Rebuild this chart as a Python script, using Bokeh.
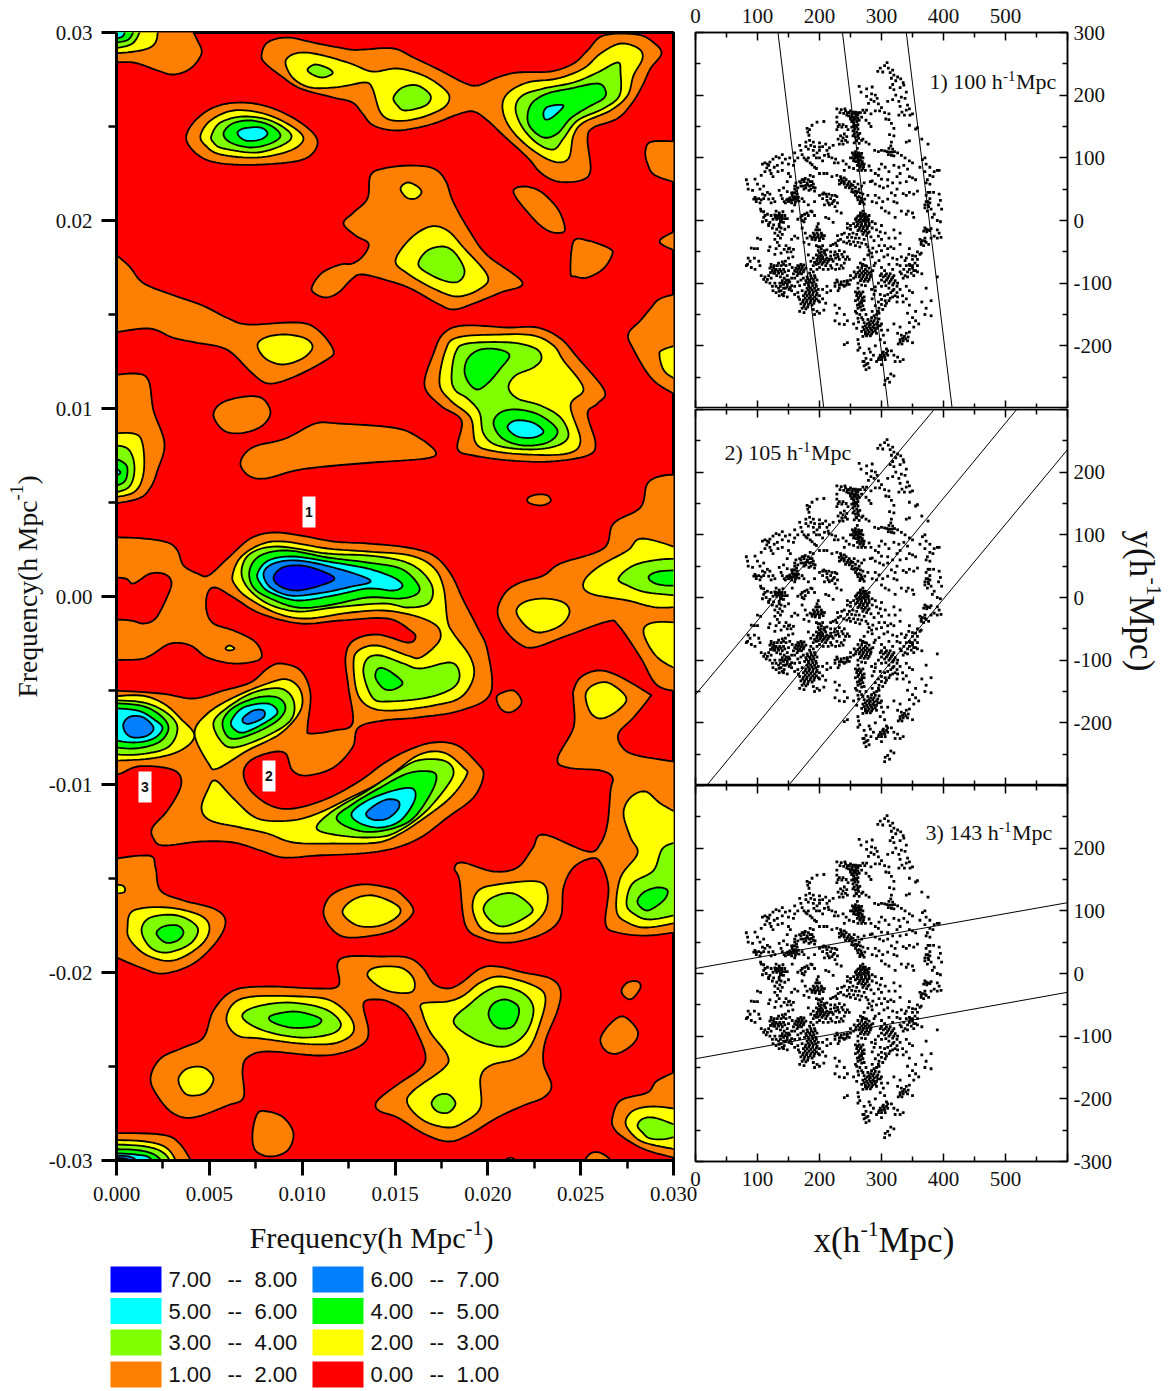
import numpy as np
from math import pi
from bokeh.plotting import figure
from bokeh.layouts import row, column
from bokeh.models import Range1d, LinearAxis, FixedTicker, Label
from bokeh.core.properties import value
from bokeh.embed import file_html
from bokeh.resources import INLINE

SERIF = "Liberation Serif"
SANS = "Liberation Sans"

# ---- tick labels ----------------------------------------------------------
FREQ_X_TICKS = [0.000, 0.005, 0.010, 0.015, 0.020, 0.025, 0.030]
FREQ_X_LABELS = ["0.000", "0.005", "0.010", "0.015", "0.020", "0.025", "0.030"]
FREQ_Y_TICKS = [-0.03, -0.02, -0.01, 0.0, 0.01, 0.02, 0.03]
FREQ_Y_LABELS = ["-0.03", "-0.02", "-0.01", "0.00", "0.01", "0.02", "0.03"]

# ---- legend ---------------------------------------------------------------
LEVEL_LOW = ["7.00", "5.00", "3.00", "1.00", "6.00", "4.00", "2.00", "0.00"]
LEVEL_HIGH = ["8.00", "6.00", "4.00", "2.00", "7.00", "5.00", "3.00", "1.00"]
LEVEL_COLOR = ["#0000FF", "#00FFFF", "#80FF00", "#FF8000", "#0080FF", "#00FF00", "#FFFF00", "#FF0000"]

# ---- contour outlines (axis-calibrated below) -
ORANGE = [
 [(116,62),(133,62),(157,70),(173,74),(190,68),(201,53),(197,40),(187,32),(116,32)],
 [(261,55),(267,42),(287,37),(317,43),(350,49),(363,49),(393,48),(413,57),(440,70),(463,82),(477,85),(497,77),(517,72),(550,71),(573,63),(587,50),(603,35),(637,34),(653,42),(661,53),(650,68),(642,85),(632,102),(617,118),(593,127),(587,138),(590,170),(580,180),(557,181),(540,172),(527,157),(503,135),(487,120),(473,111),(457,114),(430,124),(397,130),(373,125),(362,113),(352,102),(333,97),(300,88),(280,75),(265,63)],
 [(186,140),(193,122),(213,107),(240,102),(270,107),(300,122),(317,140),(307,157),(277,163),(233,164),(203,158)],
 [(370,175),(383,168),(410,165),(433,168),(445,180),(453,202),(470,232),(487,255),(522,282),(500,292),(473,303),(453,309),(437,303),(410,288),(387,280),(362,274),(352,278),(338,292),(325,297),(313,292),(312,285),(322,272),(340,264),(352,263),(363,255),(368,243),(355,235),(343,223),(353,212),(367,198)],
 [(513,192),(523,186),(540,191),(557,208),(564,225),(562,232),(547,230),(530,215)],
 [(570,272),(573,241),(587,240),(607,247),(612,253),(603,268),(587,277),(575,276)],
 [(645,150),(652,141),(673,142),(673,184),(655,175),(647,163)],
 [(661,238),(673,227),(673,253),(663,245)],
 [(628,333),(640,320),(650,308),(660,298),(673,292),(673,398),(653,380),(632,347)],
 [(116,247),(128,265),(142,282),(168,293),(202,305),(228,318),(248,324),(298,322),(318,330),(333,350),(325,360),(292,377),(268,383),(252,373),(232,353),(218,346),(195,342),(172,337),(148,328),(117,333)],
 [(117,376),(135,373),(148,380),(153,410),(164,443),(157,470),(150,487),(138,498),(117,504)],
 [(213,413),(222,402),(245,396),(262,398),(270,412),(262,425),(245,432),(228,432),(218,425)],
 [(240,462),(252,447),(285,438),(315,423),(338,423),(392,427),(415,435),(435,451),(425,458),(372,462),(325,466),(295,470),(265,478),(248,475)],
 [(424,385),(433,353),(443,333),(463,325),(507,327),(537,327),(560,338),(577,357),(604,390),(597,403),(587,413),(595,443),(587,455),(550,461),(510,460),(473,455),(457,448),(461,420),(440,405)],
 [(528,497),(537,494),(547,495),(550,501),(540,505),(528,502)],
 [(497,610),(505,592),(520,582),(543,575),(560,563),(603,548),(613,523),(640,507),(647,483),(663,475),(673,475),(673,691),(657,685),(640,657),(618,625),(607,621),(567,635),(533,647),(517,642),(503,627)],
 [(117,537),(143,538),(167,542),(177,550),(183,565),(197,573),(208,575),(227,558),(250,538),(273,532),(300,535),(333,541),(367,543),(407,547),(433,555),(450,573),(463,600),(477,627),(487,650),(490,693),(460,710),(417,717),(383,720),(358,727),(352,747),(333,767),(307,775),(292,770),(285,753),(270,752),(250,760),(243,773),(250,790),(270,805),(293,808),(327,798),(360,780),(383,763),(407,750),(433,742),(457,745),(477,763),(483,775),(473,797),(447,817),(420,837),(393,848),(360,853),(317,855),(283,857),(260,850),(233,842),(200,841),(163,845),(153,838),(152,827),(167,810),(180,787),(178,773),(163,767),(137,766),(120,773),(116,775),(116,690),(160,693),(193,698),(223,690),(250,682),(267,668),(280,663),(300,670),(310,693),(307,727),(310,733),(333,730),(352,723),(348,687),(345,657),(353,640),(377,634),(407,642),(415,637),(410,630),(387,618),(340,620),(300,623),(260,613),(233,597),(215,587),(207,593),(206,610),(213,623),(233,630),(253,640),(261,652),(257,660),(233,663),(207,657),(190,645),(170,643),(150,655),(137,659),(116,659)],
 [(496,698),(500,693),(513,690),(521,700),(517,708),(508,712),(500,708)],
 [(573,690),(580,677),(597,670),(617,675),(648,693),(649,697),(633,717),(618,733),(622,747),(637,755),(673,763),(673,930),(647,935),(617,932),(605,923),(608,887),(600,862),(590,858),(573,867),(563,887),(560,917),(543,933),(510,942),(483,938),(465,925),(459,880),(454,868),(462,862),(493,871),(517,867),(532,848),(543,834),(587,851),(600,843),(607,823),(610,790),(612,777),(600,770),(567,767),(557,758),(573,727),(573,700)],
 [(117,860),(148,855),(155,867),(160,890),(183,900),(213,908),(225,920),(217,940),(193,963),(163,973),(140,967),(117,952)],
 [(323,910),(333,893),(360,884),(387,887),(400,893),(413,910),(400,925),(383,933),(347,937),(330,927)],
 [(150,1078),(160,1058),(183,1047),(203,1037),(213,1010),(233,990),(267,986),(317,988),(338,985),(337,963),(348,956),(380,956),(407,957),(422,967),(433,983),(447,988),(460,983),(480,968),(497,966),(523,972),(550,978),(560,990),(557,1010),(545,1040),(543,1063),(551,1085),(543,1097),(523,1105),(497,1117),(467,1135),(447,1141),(423,1133),(397,1117),(380,1111),(375,1105),(380,1097),(400,1082),(420,1068),(425,1055),(417,1033),(405,1012),(390,1002),(377,999),(363,1003),(368,1030),(363,1043),(343,1052),(317,1055),(267,1051),(247,1057),(242,1070),(243,1097),(227,1105),(193,1117),(173,1113),(158,1097)],
 [(621,990),(627,982),(637,981),(640,987),(632,998),(625,997)],
 [(600,1038),(610,1023),(623,1016),(637,1030),(633,1043),(617,1053),(605,1050)],
 [(612,1117),(620,1100),(647,1092),(657,1080),(673,1068),(673,1159),(647,1150),(623,1137),(613,1127)],
 [(252,1133),(257,1113),(267,1111),(283,1117),(293,1133),(287,1150),(270,1156),(255,1150)],
 [(493,1161),(510,1157),(523,1161)],
 [(577,1161),(590,1153),(605,1155),(620,1161)],
 [(117,1133),(160,1134),(180,1144),(196,1161),(117,1161)],
]
RED_HOLES = [
 [(116,577),(125,578),(133,583),(150,573),(165,574),(171,583),(165,600),(155,618),(143,623),(130,620),(116,618)],
]
YELLOW = [
 [(116,53),(140,50),(155,42),(157,32),(116,32)],
 [(285,63),(290,55),(303,52),(323,55),(350,63),(372,71),(397,68),(423,75),(442,87),(449,97),(442,108),(417,118),(393,120),(380,112),(372,88),(365,82),(347,85),(333,87),(310,87),(293,78)],
 [(502,108),(507,93),(527,82),(557,78),(583,68),(600,53),(620,43),(638,48),(642,58),(633,75),(627,95),(610,110),(583,122),(573,135),(568,158),(553,161),(530,148),(510,128)],
 [(200,135),(210,120),(233,110),(263,113),(290,125),(303,138),(290,150),(257,157),(220,154),(205,145)],
 [(400,188),(407,182),(417,186),(421,192),(415,198),(406,197)],
 [(395,260),(410,238),(430,226),(447,230),(463,247),(487,275),(480,288),(457,296),(433,288),(407,273)],
 [(659,355),(663,349),(673,343),(673,382),(665,372)],
 [(257,345),(265,337),(285,334),(305,338),(312,347),(302,358),(282,364),(265,358)],
 [(117,434),(133,433),(142,443),(143,473),(133,492),(117,497)],
 [(439,383),(445,350),(457,337),(500,334),(533,335),(553,345),(563,360),(583,388),(570,405),(580,440),(567,453),(527,454),(490,450),(475,442),(470,417),(450,400)],
 [(583,582),(597,567),(627,550),(642,538),(673,550),(673,605),(657,607),(627,600),(590,593)],
 [(516,612),(523,602),(543,598),(563,602),(569,612),(560,625),(540,632),(527,627)],
 [(643,632),(653,622),(673,623),(673,672),(657,657)],
 [(232,575),(240,557),(260,544),(283,541),(327,548),(367,551),(410,555),(433,567),(443,587),(447,620),(453,633),(470,657),(473,677),(460,697),(433,705),(393,710),(370,707),(357,693),(353,663),(358,650),(377,645),(407,655),(420,657),(437,643),(440,632),(433,623),(413,615),(383,610),(350,612),(307,618),(277,613),(247,597),(235,585)],
 [(225,648),(229,645),(234,648),(229,650)],
 [(117,697),(140,695),(163,703),(180,718),(194,735),(180,750),(150,758),(117,760)],
 [(194,733),(207,713),(233,697),(267,683),(287,679),(300,690),(300,710),(280,733),(247,750),(217,768),(208,763)],
 [(201,808),(207,790),(215,780),(233,798),(257,818),(290,820),(317,813),(350,797),(383,780),(417,755),(443,752),(463,767),(466,775),(450,797),(423,818),(400,833),(377,842),(333,843),(293,842),(267,833),(240,827),(210,820)],
 [(585,695),(592,685),(607,682),(623,693),(625,702),(613,713),(600,718),(590,712)],
 [(623,813),(630,797),(645,791),(660,803),(673,817),(673,920),(647,927),(627,922),(616,910),(620,877),(637,853),(630,837)],
 [(472,907),(478,890),(497,884),(537,881),(547,893),(543,913),(523,930),(497,933),(480,927)],
 [(127,927),(133,910),(167,907),(200,915),(209,928),(200,945),(173,960),(147,955),(130,940)],
 [(117,885),(122,885),(123,892),(117,892)],
 [(342,912),(353,899),(373,895),(397,905),(398,915),(380,925),(357,925)],
 [(226,1020),(233,1003),(253,996),(300,996),(330,1000),(350,1017),(352,1033),(333,1043),(300,1043),(260,1038),(237,1035)],
 [(178,1078),(187,1068),(203,1067),(213,1078),(205,1092),(190,1095),(182,1090)],
 [(367,975),(375,967),(400,967),(413,978),(412,991),(395,992),(380,987)],
 [(422,1003),(447,1001),(463,995),(480,982),(500,976),(533,985),(545,998),(537,1030),(527,1050),(513,1059),(490,1065),(480,1077),(480,1107),(463,1122),(447,1127),(423,1120),(407,1103),(413,1090),(443,1068),(447,1055),(430,1032),(422,1013)],
 [(625,1122),(633,1110),(653,1106),(673,1110),(673,1150),(647,1143),(633,1135)],
 [(117,1140),(145,1141),(168,1149),(180,1161),(117,1161)],
]
CHARTREUSE = [
 [(116,48),(132,43),(142,32),(116,32)],
 [(307,69),(315,64),(328,68),(332,73),(322,77),(312,74)],
 [(393,97),(402,87),(417,85),(430,95),(425,105),(405,110),(397,105)],
 [(515,108),(522,95),(543,88),(573,82),(597,72),(617,62),(620,72),(619,95),(603,108),(577,120),(563,138),(553,149),(537,143),(522,127)],
 [(211,135),(220,122),(243,116),(270,120),(290,133),(285,143),(257,152),(223,148),(213,142)],
 [(418,262),(427,250),(443,246),(455,253),(464,270),(458,281),(443,280),(423,270)],
 [(117,445),(127,448),(134,467),(128,487),(117,493)],
 [(451,377),(455,352),(467,343),(510,342),(535,348),(541,358),(533,367),(515,375),(508,387),(517,398),(540,405),(560,417),(568,435),(557,445),(530,449),(497,445),(483,433),(479,412),(467,398),(455,390)],
 [(618,578),(633,565),(660,559),(673,559),(673,595),(647,592),(627,585)],
 [(241,570),(250,553),(277,546),(327,553),(367,555),(400,560),(420,570),(432,587),(428,603),(407,607),(383,603),(333,607),(297,611),(267,603),(247,587)],
 [(363,673),(367,658),(380,655),(403,663),(420,668),(450,662),(459,673),(453,687),(427,697),(387,701),(372,697)],
 [(117,700),(143,702),(167,713),(177,728),(167,747),(137,754),(117,753)],
 [(213,722),(227,707),(253,692),(280,688),(293,700),(290,720),(263,737),(233,747),(220,740)],
 [(316,827),(333,810),(367,790),(393,773),(417,760),(443,760),(453,770),(447,785),(423,813),(393,833),(367,837),(333,834)],
 [(626,903),(632,883),(653,870),(663,847),(673,841),(673,912),(650,919),(633,913)],
 [(483,908),(492,897),(513,893),(532,908),(523,918),(503,926),(490,920)],
 [(141,930),(150,917),(177,915),(197,927),(190,943),(167,952),(150,947)],
 [(242,1017),(253,1007),(287,1002),(323,1008),(340,1022),(332,1033),(300,1037),(263,1030)],
 [(453,1021),(470,1003),(487,990),(502,986),(523,993),(533,1008),(527,1030),(513,1043),(497,1046),(473,1038)],
 [(431,1103),(437,1095),(448,1094),(455,1103),(448,1112),(437,1111)],
 [(637,1125),(643,1118),(657,1118),(673,1130),(668,1138),(650,1138),(642,1132)],
 [(117,1144),(145,1146),(165,1154),(174,1161),(117,1161)],
]
GREEN = [
 [(116,42),(128,39),(135,32),(116,32)],
 [(527,115),(532,102),(547,93),(570,88),(597,83),(605,90),(603,98),(587,107),(570,118),(557,133),(543,137),(530,127)],
 [(223,133),(232,123),(250,120),(270,125),(280,135),(270,143),(250,147),(230,142)],
 [(117,455),(123,462),(127,470),(123,482),(117,487)],
 [(464,370),(468,357),(480,349),(498,349),(509,355),(500,368),(488,382),(477,389),(468,382)],
 [(493,423),(500,412),(517,409),(540,415),(557,430),(547,442),(523,445),(502,438)],
 [(648,577),(658,571),(673,570),(673,585),(658,584)],
 [(249,570),(260,555),(287,550),(327,557),(367,562),(400,568),(417,583),(417,593),(400,598),(367,597),(327,605),(297,607),(270,598),(253,587)],
 [(375,677),(378,668),(388,670),(402,682),(393,689),(383,688)],
 [(117,703),(140,705),(160,715),(168,728),(158,742),(133,748),(117,745)],
 [(222,722),(233,707),(257,697),(277,697),(285,707),(277,720),(253,733),(230,738)],
 [(336,818),(353,803),(380,787),(407,773),(430,771),(436,778),(428,797),(410,820),(383,830),(357,830)],
 [(637,902),(643,892),(657,887),(667,890),(663,900),(647,910)],
 [(156,933),(163,926),(177,925),(183,932),(177,940),(165,942)],
 [(271,1015),(293,1011),(313,1015),(321,1020),(313,1026),(290,1027),(271,1021)],
 [(488,1013),(493,1003),(505,999),(517,1005),(518,1015),(512,1026),(500,1028),(492,1023)],
 [(117,1149),(140,1150),(158,1157),(165,1161),(117,1161)],
]
CYAN = [
 [(116,37),(122,36),(125,32),(116,32)],
 [(543,112),(548,106),(563,105),(553,116),(545,119)],
 [(237,133),(243,128),(260,127),(267,133),(260,139),(245,140)],
 [(117,463),(120,472),(117,478)],
 [(507,427),(515,420),(532,422),(543,431),(533,437),(517,436)],
 [(257,573),(268,560),(293,556),(333,562),(367,568),(393,577),(402,585),(393,590),(367,588),(333,595),(297,600),(270,592),(260,583)],
 [(117,708),(137,710),(155,720),(162,728),(153,738),(133,742),(117,738)],
 [(231,720),(243,707),(267,703),(277,712),(263,723),(243,732),(233,728)],
 [(351,813),(367,800),(393,790),(412,788),(414,800),(400,820),(380,827),(360,823)],
 [(117,1153),(135,1154),(150,1158),(155,1161),(117,1161)],
]
AZURE = [
 [(263,573),(273,563),(297,560),(333,567),(370,580),(347,587),(317,593),(290,595),(270,587)],
 [(123,723),(130,716),(143,717),(153,727),(147,735),(133,737),(125,732)],
 [(243,717),(253,710),(263,710),(263,717),(250,723),(243,722)],
 [(366,812),(383,800),(397,800),(398,808),(387,818),(372,819)],
 [(117,1156),(132,1157),(143,1160),(147,1161),(117,1161)],
]
BLUE = [
 [(273,577),(282,567),(300,565),(320,570),(334,578),(320,585),(297,590),(280,586)],
 [(117,1158),(128,1159),(138,1161),(117,1161)],
]

# ---- galaxies (x, y in h^-1 Mpc) -------------------------------------------
GAL_NORTH = [(309,252),(305,247),(298,243),(311,243),(318,240),(294,238),(302,237),(314,236),(320,232),(326,229),(316,227),(331,226),(323,223),(335,220),(336,216),(318,217),(314,212),(320,209),(330,212),(340,205),(276,210),(264,214),(267,205),(285,213),(276,198),(284,202),(290,200),(283,193),(288,190),(279,187),(295,186),(293,195),(300,180),(297,175),(305,172),(312,170),(323,200),(332,197),(318,193),(328,190),(338,195),(310,190),(342,184),(330,182),(340,176),(345,178),(333,173),(337,168),(328,168),(346,168),(350,170),(307,162),(312,161),(316,155),(320,147),(345,152),(355,146),(358,148),(313,137),(320,135),(340,125),(345,127),(365,130),(375,122),(283,170),(290,175),(275,160),(280,155),(283,150),
 (228,178),(235,177),(241,178),(233,172),(239,171),(245,172),(250,175),(254,173),(247,167),(252,168),(258,170),(262,168),(256,164),(250,162),(262,163),(266,172),(270,176),(273,172),(255,160),(260,158),(268,165),(276,176),
 (255,155),(258,152),(260,150),(252,149),(257,146),(262,146),(254,143),(260,141),(265,139),(254,135),(258,133),(263,131),(260,127),(268,128),(256,124),(264,123),(270,130),(275,125),(280,122),
 (228,157),(232,153),(238,153),(230,150),(236,149),(243,150),(228,145),(240,138),(234,135),(238,132),(244,134),(242,128),(236,127),(232,122),(238,122),(245,125),(230,130),
 (180,147),(188,152),(184,145),(196,157),(207,158),(181,141),(183,136),(228,165),(246,145),(186,120),(190,125),(182,114),(200,124),(200,117),(200,112),(222,120),(212,112),(214,106)]
GAL_UPPER = [(261,115),(258,110),(263,108),(255,104),(259,103),(264,102),(268,107),(250,100),(256,98),(262,96),(266,97),(270,100),(263,91),(268,90),(272,90),(265,85),(270,83),(274,80),(262,80),(280,87),(283,80),(290,75),(300,66),(295,72),(285,63),
 (316,125),(315,119),(312,115),(318,114),(305,111),(309,110),(313,109),(317,109),(321,110),(326,108),(311,105),(316,104),(320,103),(300,112),(295,110),(289,112),(332,104),(338,100),
 (345,95),(350,92),(366,97),(370,100),(372,90),(362,85),(378,85),(370,78),(385,78),(390,80),(393,80),(378,72),(374,65),(372,60),(378,58),(383,70),(345,70),(350,68),(355,65),(340,62),(330,75),(325,70),(330,60),(345,45),(352,42),(358,47),(340,40),(335,43),(325,50),(303,52),(310,55),(320,30),(332,15),(343,15),(350,12),(325,28),
 (170,112),(172,105),(160,108),(165,100),(175,100),(182,100),(180,95),(185,92),(188,89),(192,85),(178,97),(195,83),(195,100),(191,104),(200,100),(205,95),(215,102),(208,104),(220,100),(226,98),(230,92),(224,92),(238,95),(243,90),(248,85),(240,80),(200,75),(207,75),(212,75),(220,70),(190,70),(185,72),(175,65),(255,83),
 (116,90),(120,93),(112,92),(108,90),(125,98),(118,88),(130,102),(135,100),(140,105),(120,80),(122,75),(125,70),(133,78),(140,80),(150,90),(158,88),(150,75),(153,70),(148,62),(82,65),(84,58),(85,50),(92,48),(96,66),(100,58),(116,45),(112,40),(120,42),(125,35),(96,37)]
GAL_MIDDLE = [(162,60),(168,62),(172,65),(177,67),(180,60),(185,62),(178,56),(184,55),(190,58),(193,52),(186,50),(175,50),(192,47),(165,52),(160,55),
 (160,50),(163,47),(158,44),(164,42),(156,40),(161,38),(166,37),(152,36),(158,33),(163,32),(147,33),(150,30),(155,28),(167,31),(143,30),(172,35),(140,35),(175,30),(182,25),(192,30),(200,40),(205,42),(210,42),(215,42),(220,40),(225,40),(205,35),(212,32),(222,30),(216,25),(225,22),(228,15),(235,12),(186,15),(180,12),(176,10),(172,8),
 (94,34),(98,34),(102,35),(106,33),(110,35),(98,30),(104,28),
 (228,72),(234,70),(240,68),(232,64),(237,63),(243,65),(248,62),(232,58),(240,58),(245,56),(251,58),(256,62),(248,52),(253,50),(258,53),(262,58),(255,45),(260,44),(264,50),(268,55),(272,60),(258,40),(264,38),(270,42),(262,33),(268,32),(273,34),(265,27),(272,26),(278,40),(282,62),(290,58),(297,55),(285,30),(292,28),(300,20),(306,15),(312,12),(322,5),
 (106,15),(110,5),(114,0),(120,-3),(126,-7),(130,15),(135,12),(141,14),(128,9),(133,7),(138,5),(144,8),(148,3),(131,2),(137,0),(142,-3),(135,-6),(160,25),(156,15),(150,-10),(170,5),(165,2),(172,0),(177,3),(182,8),(175,-2),(192,8),(188,14),(210,5),(215,3),(222,-3),(245,-5),(250,-8),(255,-5),
 (270,15),(266,12),(274,10),(262,7),(268,6),(274,5),(280,8),(258,2),(264,0),(270,0),(276,1),(262,-5),(268,-5),(274,-4),(280,-4),(258,-10),(265,-11),(271,-10),(277,-10),(285,-12),(262,-16),(268,-17),(274,-16),(280,-18),(270,-22),(276,-24),(283,-26),(245,-12),(250,-14),(285,-2),(290,-5),(300,-8),(320,-15),(330,-20),(340,10),(352,5),
 (240,-20),(248,-22),(254,-20),(260,-22),(245,-27),(252,-27),(258,-28),(264,-28),(248,-33),(255,-34),(262,-35),(268,-36),(272,-30),(258,-40),(265,-42),(275,-38),(278,-42),(280,-48),(284,-52),(278,-55),(285,-58),
 (378,45),(372,40),(378,35),(372,30),(378,28),(370,25),(376,22),(380,18),(374,15),(384,45),(393,42),(395,32),(392,25),(397,18),(385,10),(382,5),(390,0),(395,-2),(370,-12),(375,-15),(380,-13),(368,-17),(373,-18),(390,-15),(393,-20),(385,-25),(380,-28),(390,-28),(396,-27),(370,-28),(366,-32),(372,-35),(362,-30),(368,-40),(376,-38),(364,-38),(358,-50),(362,-54),(355,-57),(350,-62),(358,-62),(364,-52),(345,-70),(350,-72),(345,-78),(352,-80),(358,-82),(342,-82),(338,-88),(335,-92),(332,-85),(342,-90),(365,-85),(390,-90),
 (305,-40),(310,-45),(315,-42),(320,-45),(300,-48),(310,-55),(318,-60),(325,-70),(330,-72),(325,-62),(340,-60),(345,-45),(295,-25),(300,-30),(322,-28),(330,-38)]
GAL_LOWER = [(198,-5),(196,-10),(194,-15),(200,-15),(190,-20),(196,-20),(203,-20),(185,-25),(191,-26),(197,-26),(203,-26),(208,-24),(180,-28),(177,-20),(188,-30),(172,-12),(175,-35),(183,-38),(160,-25),(165,-28),(155,-30),(150,-45),(154,-50),(157,-58),(135,-10),(136,-18),(133,-24),(140,-22),(128,-30),(132,-35),(135,-40),(130,-45),(100,-28),(105,-30),(118,-48),(90,-44),(95,-45),(100,-45),(120,-42),
 (195,-40),(200,-42),(205,-40),(198,-48),(203,-50),(208,-48),(210,-55),(195,-55),(200,-57),(205,-58),(212,-60),(218,-57),(225,-50),(232,-48),(240,-50),(228,-40),(222,-38),(218,-40),(190,-60),(196,-62),(202,-63),(208,-65),(214,-65),(220,-62),(226,-60),(232,-62),(238,-58),(245,-58),(186,-65),(192,-67),(198,-69),(204,-70),(210,-72),(200,-75),(190,-72),(228,-70),(235,-72),(240,-68),(248,-62),(218,-72),(182,-55),
 (165,-72),(170,-70),(175,-71),(162,-76),(167,-76),(172,-76),(178,-76),(163,-82),(168,-82),(174,-82),(158,-85),(164,-88),(155,-92),(160,-92),(150,-80),
 (150,-60),(145,-65),(142,-70),(138,-72),(132,-72),(126,-76),(120,-76),(124,-80),(130,-78),(136,-78),(142,-78),(128,-84),(134,-84),(140,-85),(148,-88),(122,-70),
 (85,-60),(88,-65),(84,-70),(95,-60),(102,-65),(104,-72),(82,-72),(90,-75),(96,-78),(106,-88),(112,-90),(118,-88),(110,-94),(116,-94),(122,-92),(114,-98),(120,-100),
 (128,-100),(124,-105),(130,-105),(136,-100),(134,-108),(140,-96),(146,-95),(152,-98),(142,-102),(148,-102),(155,-104),(145,-108),(151,-110),(138,-112),(143,-115),(130,-115),(135,-120),(142,-120),(148,-122),(125,-112),(160,-105),(165,-115),
 (180,-90),(186,-88),(192,-88),(178,-96),(184,-95),(190,-94),(196,-95),(176,-102),(182,-102),(188,-100),(194,-102),(186,-108),(192,-108),(180,-108),(198,-110),(178,-114),(184,-114),(190,-114),(196,-116),(174,-120),(180,-120),(186,-121),(192,-122),(200,-120),(168,-126),(174,-127),(180,-127),(186,-128),(192,-128),(198,-128),(170,-133),(176,-133),(182,-134),(188,-135),(172,-140),(178,-141),(175,-147),(168,-145),(205,-110),(212,-105),(218,-112),(225,-105),(232,-103),(212,-115),(230,-112),(205,-125),(200,-130),(210,-132),(200,-148),(196,-145),(192,-150),(207,-143),(190,-142),
 (228,-95),(235,-98),(240,-97),(245,-96),(250,-95),(238,-103),(243,-103),(248,-102),(255,-92)]
GAL_SOUTH = [(272,-62),(270,-70),(266,-68),(274,-72),(262,-75),(268,-76),(274,-78),(280,-76),(256,-82),(262,-83),(268,-84),(274,-84),(280,-84),(286,-80),(258,-90),(264,-90),(270,-90),(276,-91),(282,-90),(266,-96),(272,-97),(278,-97),(262,-100),(268,-103),(274,-104),(288,-72),(250,-88),
 (262,-108),(258,-114),(264,-114),(270,-114),(260,-120),(266,-120),(272,-122),(262,-126),(268,-128),(258,-128),(264,-134),(270,-136),(262,-140),(268,-143),(258,-145),(265,-150),(262,-156),(275,-150),(285,-145),(225,-135),(232,-140),(228,-148),(240,-150),(225,-160),(232,-165),(240,-166),(245,-160),(255,-165),(260,-172),
 (300,-75),(305,-80),(298,-88),(303,-90),(308,-85),(314,-85),(320,-88),(310,-92),(316,-94),(322,-96),(305,-98),(312,-100),(318,-103),(325,-105),(295,-100),(290,-106),(284,-110),(300,-105),(340,-105),(345,-112),(350,-115),(372,-108),
 (320,-110),(325,-115),(315,-115),(310,-118),(318,-122),(305,-120),(298,-118),(300,-126),(306,-128),(312,-128),(295,-130),(300,-134),(306,-136),(290,-136),(296,-140),(285,-125),(290,-112),(288,-118),(325,-130),(335,-130),(345,-135),(340,-125),(355,-145),(365,-130),(372,-140),(380,-128),(370,-150),(380,-152),(342,-148),(350,-155),(360,-165),
 (295,-145),(292,-150),(288,-152),(284,-155),(290,-156),(296,-157),(278,-158),(283,-160),(288,-160),(294,-162),(300,-165),(272,-163),(277,-165),(282,-166),(288,-167),(294,-168),(270,-170),(276,-172),(282,-172),(288,-172),(268,-177),(274,-178),(280,-178),(286,-178),(276,-184),(282,-184),(270,-185),(292,-180),(300,-175),(303,-183),(310,-175),(305,-195),(298,-190),
 (355,-160),(352,-170),(345,-178),(340,-180),(332,-183),(337,-185),(343,-186),(330,-190),(335,-192),(342,-192),(327,-197),(333,-197),(350,-195),(330,-170),(326,-180),(320,-165),(345,-163),
 (262,-190),(263,-197),(265,-203),(262,-207),(245,-195),(240,-198),(280,-205),(290,-200),(308,-205),(303,-210),(310,-208),(316,-208),(298,-215),(304,-215),(310,-215),(295,-222),(300,-222),(306,-222),(292,-225),(320,-215),(326,-218),(330,-225),(322,-225),(335,-222),(272,-212),(275,-220),(270,-225),(278,-228),(272,-232),(280,-235),(275,-238),(283,-222),(287,-215),(282,-210),(315,-245),(320,-248),(310,-252),(305,-262),(313,-258),(306,-255),(300,-230)]
GAL_KNOTS = [(242,175),(248,172),(253,170),(258,173),(262,172),(244,168),(250,165),(254,165),(259,166),(264,160),(258,162),(252,158),(262,153),(255,150),(262,135),(256,138),(259,128),(262,137),
 (253,108),(257,106),(261,105),(265,105),(253,100),(258,100),(262,100),(267,102),(255,95),(259,94),(264,94),(269,94),(261,88),(266,87),(271,86),(268,80),
 (170,60),(175,62),(182,65),(188,62),(174,55),(181,57),(187,56),(170,55),(178,52),(183,48),(190,53),
 (155,44),(160,44),(157,37),(163,36),(154,32),(160,35),(149,34),(153,33),(161,29),(145,28),
 (235,67),(240,62),(246,59),(235,60),(242,53),(250,55),(254,56),(252,46),(258,47),(262,46),(266,44),(261,37),(267,36),(266,30),(270,29),
 (130,8),(135,9),(139,8),(134,4),(140,3),(129,5),(144,3),(139,-2),
 (270,10),(265,8),(271,7),(277,6),(260,4),(266,3),(272,2),(279,2),(260,-2),(266,-2),(272,-1),(278,-1),(261,-8),(267,-8),(274,-7),(280,-8),(264,-14),(270,-13),(277,-13),(272,-19),(278,-20),
 (192,-23),(198,-23),(204,-23),(188,-27),(194,-28),(200,-28),(206,-29),(197,-15),(193,-31),(200,-32),
 (200,-60),(205,-61),(210,-62),(196,-65),(201,-66),(206,-67),(212,-68),(198,-58),(203,-55),(208,-52),(200,-52),(216,-62),(222,-65),(230,-58),(195,-70),
 (165,-78),(170,-79),(175,-79),(167,-73),(172,-73),(160,-80),(166,-85),(171,-85),(128,-80),(133,-81),(138,-81),(144,-82),(126,-84),
 (140,-100),(145,-99),(150,-95),(137,-105),(142,-108),(148,-106),(153,-107),(140,-118),(135,-113),
 (181,-93),(187,-92),(193,-91),(179,-99),(185,-98),(191,-98),(183,-105),(189,-104),(195,-105),(182,-111),(188,-111),(194,-112),(177,-117),(183,-117),(189,-118),(195,-119),(177,-124),(183,-124),(189,-125),(195,-125),(173,-130),(179,-130),(185,-131),(191,-132),(175,-137),(181,-138),
 (265,-80),(271,-81),(277,-81),(283,-82),(259,-86),(265,-87),(271,-87),(277,-87),(283,-87),(268,-93),(274,-94),(280,-94),(269,-72),(276,-73),
 (261,-117),(267,-117),(263,-123),(269,-124),(265,-131),(261,-135),
 (300,-85),(306,-88),(312,-89),(318,-91),(308,-95),(314,-97),(320,-100),
 (280,-163),(286,-163),(292,-165),(298,-168),(274,-168),(280,-169),(286,-170),(292,-172),(272,-174),(278,-175),(284,-175),(290,-176),(278,-181),(284,-181),(274,-181),
 (375,30),(375,25),(370,20),(372,-14),(378,-16),(375,45),(364,-35),(370,-33),(346,-72),(350,-76),(355,-80),
 (305,-218),(300,-218),(296,-219),(308,-212),(302,-212),(272,-225),(275,-230),(334,-188),(339,-189),(330,-194)]
GAL_FILAMENTS = [(122,-74),(127,-72),(134,-68),(140,-66),(146,-72),(152,-70),(156,-75),(121,-83),(131,-88),(137,-90),(143,-92),(150,-98),(155,-112),(160,-118),(166,-122),(172,-112),(168,-104),(174,-92),(170,-95),(165,-98),
 (198,-42),(203,-45),(212,-47),(218,-50),(224,-55),(229,-54),(236,-54),(242,-62),(238,-76),(232,-77),(226,-78),(220,-76),(214,-78),(206,-78),(196,-78),(186,-78),(184,-84),(190,-82),
 (143,-46),(148,-50),(152,-44),(146,-40),(138,-52),(128,-54),(158,-46),
 (229,-98),(234,-102),(240,-105),(245,-100),(232,-108),(225,-100),
 (262,-116),(268,-132),(272,-128),(266,-138),(272,-142),(260,-148),(268,-155),(263,-162),(270,-158),
 (300,-95),(307,-104),(312,-108),(318,-112),(322,-120),(314,-124),(308,-132),(302,-142),(296,-148),(326,-100),(330,-110),(334,-120),(326,-122),
 (332,-58),(338,-64),(344,-54),(350,-56),(354,-68),(348,-84),(340,-72),(336,-78),(330,-82),(358,-72),(352,-88),
 (229,-24),(234,-30),(239,-34),(244,-36),(250,-38),(236,-22),(230,-32),(226,-36),
 (137,-2),(138,-12),(137,-28),(131,-14),(144,-14),(128,-20),(124,-12),(118,-8),
 (105,18),(110,14),(116,10),(122,8),(125,2),(118,-6),(112,8),(108,-2),
 (207,44),(212,38),(218,35),(224,32),(229,28),(220,27),(214,28),(208,25),(228,38),
 (178,125),(184,128),(192,118),(205,118),(210,122),(216,116),(190,112),(196,108),(178,118),(168,120),(160,95),(152,100),(145,98),(140,92),(132,88),(127,85),(115,84),(112,78),(106,72),
 (135,48),(142,52),(148,46),(138,40),(128,30),(122,28),(118,34),(108,42),(104,50),(110,55),
 (290,40),(296,36),(302,30),(310,34),(316,44),(322,40),(300,90),(306,85),(312,78),(320,88),(328,85),(336,88),(342,82),(310,65),(318,60),(296,82),
 (292,-15),(298,-18),(306,-20),(312,-28),(288,-32),(296,-40),(286,-44),(292,-50),(304,-58),(296,-64),(290,-68),(312,-70),(318,-78)]
GALAXIES = GAL_NORTH + GAL_UPPER + GAL_MIDDLE + GAL_LOWER + GAL_SOUTH + GAL_KNOTS + GAL_FILAMENTS
GAL_X = [g[0] for g in GALAXIES]
GAL_Y = [g[1] for g in GALAXIES]

# survey strips drawn over the galaxies (x0, y0, x1, y1 in h^-1 Mpc)
STRIPS_1 = [(133,300,207,-300),(237,300,311,-300),(340,300,414,-300)]
STRIPS_2 = [(0,-155,385,300),(18,-300,518,300),(150,-300,600,236)]
STRIPS_3 = [(0,8,600,113),(0,-136,600,-30)]

# ---- axis calibration of the digitised outlines ---------------------------
def fx(a):
    return 0.03 * (a - 116.0) / (673.0 - 116.0)

def fy(b):
    return 0.03 - 0.06 * (b - 32.0) / (1160.0 - 32.0)

def snap(pt):
    a, b = pt
    if a <= 118: a = 106
    if a >= 672: a = 684
    if b <= 33: b = 22
    if b >= 1160: b = 1172
    return a, b

def outside(p):
    return p[0] < 110 or p[0] > 680 or p[1] < 26 or p[1] > 1168

def tame(points):
    # outlines that leave the frame run along its edge: keep the curve from bulging back in
    pts = [np.array(snap(p), dtype=float) for p in points]
    out = []
    for i, p in enumerate(pts):
        q = pts[(i + 1) % len(pts)]
        out.append(p)
        if outside(p) and outside(q):
            d = np.linalg.norm(q - p)
            if d > 12:
                out.append(p + (q - p) * 4 / d)
                out.append(q - (q - p) * 4 / d)
    return np.array(out)

def smooth(points, n=8):
    pts = tame(points)
    m = len(pts)
    out = []
    for i in range(m):
        p0, p1, p2, p3 = pts[(i - 1) % m], pts[i], pts[(i + 1) % m], pts[(i + 2) % m]
        for t in np.linspace(0, 1, n, endpoint=False):
            out.append(0.5 * ((2 * p1) + (p2 - p0) * t + (2 * p0 - 5 * p1 + 4 * p2 - p3) * t ** 2 + (3 * p1 - p0 - 3 * p2 + p3) * t ** 3))
    out = np.array(out)
    return fx(out[:, 0]).tolist(), fy(out[:, 1]).tolist()

def text_sheet(width, height, x0, x1, y0, y1, margin=None):
    f = figure(width=width, height=height, x_range=Range1d(x0, x1), y_range=Range1d(y1, y0),
               x_axis_type=None, y_axis_type=None, toolbar_location=None, output_backend="svg",
               min_border=0, outline_line_color=None, border_fill_color=None,
               background_fill_color=None, frame_align=False)
    f.grid.visible = False
    if margin is not None:
        f.margin = margin
    return f

def write(f, x, y, text, size, angle=0.0):
    f.text(x=[x], y=[y], text=[text], text_font=value(SERIF), text_font_size=f"{size}px",
           text_color="#111111", angle=angle, text_align="left", text_baseline="middle")

# ---- contour map ----------------------------------------------------------
main = figure(width=661, height=1212, x_range=Range1d(0, 0.03), y_range=Range1d(-0.03, 0.03),
              x_axis_type=None, y_axis_type=None, toolbar_location=None, output_backend="svg",
              min_border_left=72, min_border_right=32, min_border_top=32, min_border_bottom=52,
              background_fill_color="#FF0000", border_fill_color=None,
              outline_line_color="black", outline_line_width=3, frame_align=False)
main.grid.visible = False

def main_axis(ticks, labels, minor, where, standoff):
    ax = LinearAxis(ticker=FixedTicker(ticks=ticks, minor_ticks=minor),
                    major_label_overrides=dict(zip(ticks, labels)))
    ax.major_label_text_font = SERIF
    ax.major_label_text_font_size = "21px"
    ax.major_label_text_color = "#111111"
    ax.major_label_standoff = standoff
    ax.major_tick_out = 15
    ax.major_tick_in = 0
    ax.minor_tick_out = 8
    ax.minor_tick_in = 0
    ax.major_tick_line_width = 3
    ax.minor_tick_line_width = 2.5
    ax.axis_line_width = 3
    main.add_layout(ax, where)

main_axis(FREQ_X_TICKS, FREQ_X_LABELS, [0.0025, 0.0075, 0.0125, 0.0175, 0.0225, 0.0275], "below", 11)
main_axis(FREQ_Y_TICKS, FREQ_Y_LABELS, [-0.025, -0.015, -0.005, 0.005, 0.015, 0.025], "left", 9)

for outlines, colour in [(ORANGE, "#FF8000"), (RED_HOLES, "#FF0000"), (YELLOW, "#FFFF00"),
                         (CHARTREUSE, "#80FF00"), (GREEN, "#00FF00"), (CYAN, "#00FFFF"),
                         (AZURE, "#0080FF"), (BLUE, "#0000FF")]:
    curves = [smooth(o) for o in outlines]
    main.patches([c[0] for c in curves], [c[1] for c in curves], fill_color=colour,
                 line_color="black", line_width=1.8)

# numbered markers
TAG_TEXT = ["1", "2", "3"]
TAG_LEFT = [302, 262, 138]
TAG_RIGHT = [315, 275, 151]
TAG_TOP = [496, 760, 771]
TAG_BOTTOM = [527, 791, 802]
main.quad(left=fx(np.array(TAG_LEFT, float)).tolist(), right=fx(np.array(TAG_RIGHT, float)).tolist(),
          top=fy(np.array(TAG_TOP, float)).tolist(), bottom=fy(np.array(TAG_BOTTOM, float)).tolist(),
          fill_color="white", line_color=None)
main.text(x=[fx((a + b) / 2) for a, b in zip(TAG_LEFT, TAG_RIGHT)],
          y=[fy((a + b) / 2) for a, b in zip(TAG_TOP, TAG_BOTTOM)], text=TAG_TEXT,
          text_font=value(SANS), text_font_style="bold", text_font_size="14px",
          text_align="center", text_baseline="middle", text_color="#111111")

# ---- left title ------------------------------------------------------------
ytitle = text_sheet(44, 1212, 0, 44, 0, 1212)
write(ytitle, 27, 697, "Frequency(h Mpc", 27.6, pi / 2)
write(ytitle, 16, 500, "-1", 19, pi / 2)
write(ytitle, 27, 484, ")", 27.6, pi / 2)

# ---- x title and legend -----------------------------------------------------
leg = text_sheet(661, 179, 44, 705, 1212, 1391)
write(leg, 249, 1237, "Frequency(h Mpc", 30.3)
write(leg, 465, 1227, "-1", 21)
write(leg, 483, 1237, ")", 30.3)
COL_X = [110, 312]
ROW_Y = [1266, 1297.5, 1329, 1361]
lx, ly, lc, xlow, xdash, xhigh, ty = [], [], [], [], [], [], []
for i in range(8):
    c, r = i // 4, i % 4
    lx.append(COL_X[c]); ly.append(ROW_Y[r]); lc.append(LEVEL_COLOR[i])
    xlow.append(COL_X[c] + 58); xdash.append(COL_X[c] + 117); xhigh.append(COL_X[c] + 144)
    ty.append(ROW_Y[r] + 13)
leg.quad(left=lx, right=[v + 51 for v in lx], top=ly, bottom=[v + 26 for v in ly], fill_color=lc, line_color=None)
for xs, texts in [(xlow, LEVEL_LOW), (xdash, ["--"] * 8), (xhigh, LEVEL_HIGH)]:
    leg.text(x=xs, y=ty, text=texts, text_font=value(SANS), text_font_size="22px",
             text_baseline="middle", text_color="#111111")

# ---- galaxy panels --------------------------------------------------------
X_TICKS = [0, 100, 200, 300, 400, 500, 600]
X_MINOR = [50, 150, 250, 350, 450, 550]
Y_TICKS = [-300, -200, -100, 0, 100, 200, 300]
Y_MINOR = [-250, -150, -50, 50, 150, 250]
X_LABELS = {0: "0", 100: "100", 200: "200", 300: "300", 400: "400", 500: "500", 600: ""}

def panel(height, top, bottom, strips, ylabels, top_labels, bottom_labels):
    p = figure(width=434, height=height, x_range=Range1d(0, 600), y_range=Range1d(-300, 300),
               x_axis_type=None, y_axis_type=None, toolbar_location=None, output_backend="svg",
               min_border_left=11, min_border_right=51, min_border_top=top, min_border_bottom=bottom,
               background_fill_color="white", border_fill_color=None,
               outline_line_color="black", outline_line_width=1.5, frame_align=False)
    p.grid.visible = False
    specs = [("above", X_TICKS, X_MINOR, top_labels), ("below", X_TICKS, X_MINOR, bottom_labels),
             ("left", Y_TICKS, Y_MINOR, None), ("right", Y_TICKS, Y_MINOR, ylabels)]
    for where, ticks, minor, labels in specs:
        ax = LinearAxis(ticker=FixedTicker(ticks=ticks, minor_ticks=minor))
        ax.major_tick_in = 8
        ax.major_tick_out = 0
        ax.minor_tick_in = 5
        ax.minor_tick_out = 0
        ax.major_tick_line_width = 1.5
        ax.minor_tick_line_width = 1.5
        ax.axis_line_width = 1.5
        ax.major_label_text_font = SERIF
        ax.major_label_text_color = "#111111"
        if labels is None:
            ax.major_label_text_font_size = "0px"
            ax.major_label_standoff = 0
            ax.major_label_overrides = {t: "" for t in ticks}
        else:
            ax.major_label_text_font_size = "21px"
            ax.major_label_standoff = 10 if where in ("above", "below") else 6
            ax.major_label_overrides = labels
        p.add_layout(ax, where)
    p.scatter(GAL_X, GAL_Y, marker="square", size=2.8, fill_color="black", line_color=None)
    p.segment([s[0] for s in strips], [s[1] for s in strips], [s[2] for s in strips], [s[3] for s in strips],
              line_color="black", line_width=1)
    return p

Y1 = {300: "300", 200: "200", 100: "100", 0: "0", -100: "-100", -200: "-200", -300: ""}
Y2 = {300: "", 200: "200", 100: "100", 0: "0", -100: "-100", -200: "-200", -300: ""}
Y3 = {300: "", 200: "200", 100: "100", 0: "0", -100: "-100", -200: "-200", -300: "-300"}

p1 = panel(412, 36, 0, STRIPS_1, Y1, X_LABELS, None)
p2 = panel(377, 1, 0, STRIPS_2, Y2, None, None)
p3 = panel(420, 0, 44, STRIPS_3, Y3, None, X_LABELS)

def px(a):
    return (a - 695.0) / 372.0 * 600.0

def py(b, frame_top):
    return 300.0 - (b - frame_top) / 376.0 * 600.0

def tag(p, x0, yc, frame_top, text):
    for a, b, t, s in [(x0, yc, text, 22), (x0 + 73.5, yc - 6, "-1", 15), (x0 + 86.5, yc, "Mpc", 22)]:
        p.add_layout(Label(x=px(a), y=py(b, frame_top), text=t, text_font=SERIF, text_font_size=f"{s}px",
                           text_color="#111111", text_align="left", text_baseline="middle"))

tag(p1, 929, 81, 32, "1) 100 h")
tag(p2, 724, 452, 409, "2) 105 h")
tag(p3, 925, 832, 785, "3) 143 h")

# ---- right titles ------------------------------------------------------------
xtitle = text_sheet(434, 70, 684, 1118, 1205, 1275)
write(xtitle, 813, 1240, "x(h", 35)
write(xtitle, 860, 1228, "-1", 22)
write(xtitle, 878, 1240, "Mpc)", 35)

ytitle_r = text_sheet(47, 800, 1118, 1165, 0, 800)
write(ytitle_r, 1141, 530, "y(h", 35, -pi / 2)
write(ytitle_r, 1153, 577, "-1", 22, -pi / 2)
write(ytitle_r, 1141, 595, "Mpc)", 35, -pi / 2)

left = column(main, leg, spacing=0)
right = column(p1, p2, p3, xtitle, spacing=0, margin=(-4, 0, 0, -21))
page = row(ytitle, left, right, ytitle_r, spacing=0)
open("out.html", "w").write(file_html(page, INLINE))
